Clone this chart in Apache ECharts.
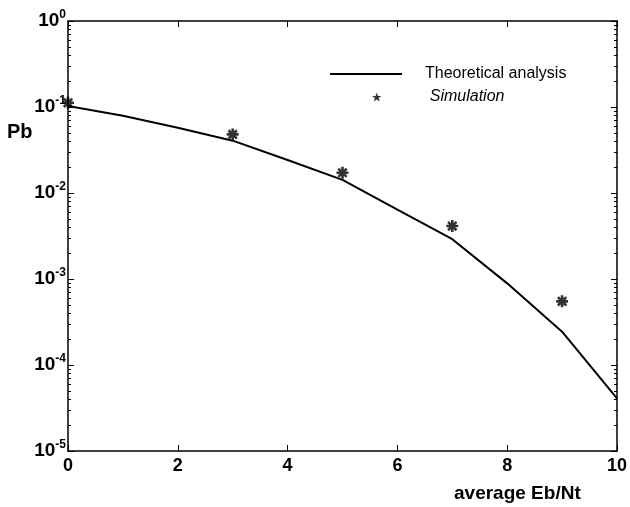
<!DOCTYPE html>
<html>
<head>
<meta charset="utf-8">
<script src="https://cdn.jsdelivr.net/npm/echarts@6/dist/echarts.min.js"></script>
<style>
  html, body { margin: 0; padding: 0; background: #fff; }
  #chart { width: 630px; height: 507px; }
</style>
</head>
<body>
<div id="chart"></div>
<script>
// x axis: average Eb/Nt
const ebnt = [0, 1, 2, 3, 4, 5, 6, 7, 8, 9, 10]
// theoretical bit error probability
const theory = [0.103, 0.079, 0.0575, 0.0406, 0.0242, 0.0142, 0.0064, 0.0029, 0.00089, 0.000244, 0.000041]
// simulation points
const simX = [0, 3, 5, 7, 9]
const simY = [0.112, 0.048, 0.0172, 0.00413, 0.00055]
const xTicks = [0, 2, 4, 6, 8, 10]

// minor log ticks 2..9 in each decade
const minorTicks = []
for (let e = -5; e < 0; e++) {
  for (let m = 2; m <= 9; m++) minorTicks.push(m * Math.pow(10, e))
}

const asterisk = 'path://M0,5 L10,5 M5,0 L5,10 M1.5,1.5 L8.5,8.5 M1.5,8.5 L8.5,1.5'
const star = 'path://M5,0 L6.2,3.6 L10,3.6 L7,5.9 L8.1,9.5 L5,7.3 L1.9,9.5 L3,5.9 L0,3.6 L3.8,3.6 Z'

const chart = echarts.init(document.getElementById('chart'))

const font = 'Liberation Sans, Arial, sans-serif'
const expLabel = (v) => '{b|10}{s|' + Math.round(Math.log10(v)) + '}'
const expRich = {
  b: { fontSize: 19, fontWeight: 'bold', fontFamily: font, color: '#000' },
  s: { fontSize: 12, fontWeight: 'bold', fontFamily: font, color: '#000', verticalAlign: 'top', padding: [0, 0, 13, 0] },
}

const baseY = {
  type: 'log',
  min: 1e-5,
  max: 1,
  logBase: 10,
  splitLine: { show: false },
  axisLine: { show: true, lineStyle: { color: '#000', width: 1.5 } },
}

const option = {
  backgroundColor: '#fff',
  animation: false,
  title: [
    { text: 'Pb', left: 2, top: 117, textStyle: { fontSize: 20, fontWeight: 'bold', fontFamily: font, color: '#000' } },
    { text: 'average Eb/Nt', left: 449, top: 479, textStyle: { fontSize: 19, fontWeight: 'bold', fontFamily: font, color: '#000' } },
  ],
  legend: [
    {
      data: [{ name: 'Theoretical analysis', icon: 'rect' }],
      left: 325,
      top: 61,
      itemWidth: 72,
      itemHeight: 2,
      textStyle: { fontSize: 16, fontFamily: font, color: '#000', padding: [0, 0, 0, 18] },
    },
    {
      data: [{ name: 'Simulation', icon: star, itemStyle: { borderWidth: 0 } }],
      left: 367,
      top: 84,
      itemWidth: 72,
      itemHeight: 9,
      textStyle: { fontSize: 16, fontStyle: 'italic', fontFamily: font, color: '#000', padding: [0, 0, 0, 12] },
    },
  ],
  grid: { left: 68, right: 11, top: 21, bottom: 56 },
  xAxis: [
    {
      type: 'value',
      min: 0,
      max: 10,
      interval: 2,
      splitLine: { show: false },
      axisLine: { lineStyle: { color: '#000', width: 1.5 } },
      axisTick: { inside: true, length: 6, lineStyle: { color: '#000' }, customValues: xTicks },
      axisLabel: { margin: 6, fontSize: 18, fontWeight: 'bold', fontFamily: font, color: '#000', customValues: xTicks },
    },
    {
      type: 'value',
      position: 'top',
      min: 0,
      max: 10,
      interval: 2,
      splitLine: { show: false },
      axisLine: { lineStyle: { color: '#000', width: 1.5 } },
      axisTick: { inside: true, length: 6, lineStyle: { color: '#000' } },
      axisLabel: { show: false },
    },
  ],
  yAxis: [
    Object.assign({}, baseY, {
      position: 'left',
      axisTick: { inside: true, length: 6, lineStyle: { color: '#000' } },
      axisLabel: { margin: 2, formatter: expLabel, rich: expRich },
    }),
    Object.assign({}, baseY, {
      position: 'left',
      axisLine: { show: false },
      axisTick: { inside: true, length: 3, lineStyle: { color: '#000' }, customValues: minorTicks },
      axisLabel: { show: false },
    }),
    Object.assign({}, baseY, {
      position: 'right',
      axisTick: { inside: true, length: 6, lineStyle: { color: '#000' } },
      axisLabel: { show: false },
    }),
    Object.assign({}, baseY, {
      position: 'right',
      axisLine: { show: false },
      axisTick: { inside: true, length: 3, lineStyle: { color: '#000' }, customValues: minorTicks },
      axisLabel: { show: false },
    }),
  ],
  series: [
    {
      name: 'Theoretical analysis',
      type: 'line',
      data: ebnt.map((x, i) => [x, theory[i]]),
      symbol: 'none',
      lineStyle: { color: '#000', width: 2 },
      itemStyle: { color: '#000' },
    },
    {
      name: 'Simulation',
      type: 'scatter',
      data: simX.map((x, i) => [x, simY[i]]),
      symbol: asterisk,
      symbolSize: 12,
      symbolKeepAspect: true,
      itemStyle: { color: '#000', borderColor: '#000', borderWidth: 2.6 },
    },
  ],
}

chart.setOption(option)
</script>
</body>
</html>
